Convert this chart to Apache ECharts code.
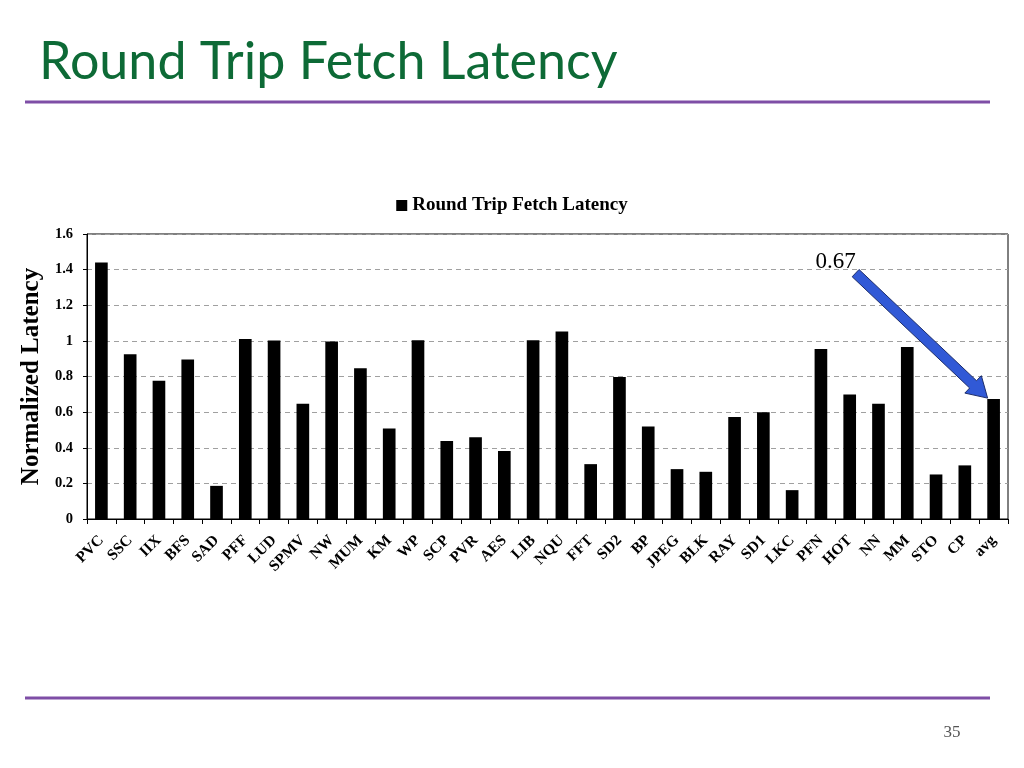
<!DOCTYPE html>
<html>
<head>
<meta charset="utf-8">
<title>Round Trip Fetch Latency</title>
<script src="https://cdn.jsdelivr.net/npm/echarts@6/dist/echarts.min.js"></script>
<style>
html, body { margin: 0; padding: 0; background: #fff; }
#chart { width: 1024px; height: 768px; }
</style>
</head>
<body>
<div id="chart"></div>
<script>
// benchmarks on the x axis
var categories = ['PVC', 'SSC', 'IIX', 'BFS', 'SAD', 'PFF', 'LUD', 'SPMV', 'NW', 'MUM', 'KM', 'WP',
	'SCP', 'PVR', 'AES', 'LIB', 'NQU', 'FFT', 'SD2', 'BP', 'JPEG', 'BLK', 'RAY', 'SD1', 'LKC',
	'PFN', 'HOT', 'NN', 'MM', 'STO', 'CP', 'avg'];
// normalized round trip fetch latency
var latency = [1.44, 0.925, 0.776, 0.895, 0.186, 1.011, 1.002, 0.647, 0.996, 0.846, 0.508, 1.004,
	0.438, 0.459, 0.382, 1.004, 1.053, 0.308, 0.797, 0.519, 0.280, 0.265, 0.573, 0.600, 0.162,
	0.955, 0.699, 0.647, 0.966, 0.250, 0.301, 0.673];
// labels that sit one step lower (staggered)
var lowered = ['SPMV', 'MUM', 'NQU', 'JPEG'];
var yTicks = { min: 0, max: 1.6, interval: 0.2 };
var avgLabel = '0.67';

var serif = '"Liberation Serif", "Times New Roman", serif';
var chart = echarts.init(document.getElementById('chart'));

var xData = [];
for (var i = 0; i < categories.length; i++) {
	if (lowered.indexOf(categories[i]) >= 0) {
		xData.push({ value: categories[i], textStyle: { padding: [14, 0, 0, 0] } });
	} else {
		xData.push(categories[i]);
	}
}

var option = {
	backgroundColor: '#ffffff',
	animation: false,
	title: {
		text: 'Round Trip Fetch Latency',
		left: 34,
		top: 31,
		textStyle: { fontFamily: 'Lato, "Open Sans", sans-serif', fontSize: 52, fontWeight: 'normal', color: '#0d6a36' }
	},
	legend: {
		data: ['Round Trip Fetch Latency'],
		left: 'center',
		top: 191,
		itemWidth: 11,
		itemHeight: 11,
		itemGap: 4,
		icon: 'rect',
		textStyle: { fontFamily: serif, fontSize: 19, fontWeight: 'bold', color: '#000' }
	},
	grid: {
		left: 87, right: 16, top: 234, bottom: 249,
		show: true, borderColor: '#000', borderWidth: 1
	},
	xAxis: {
		type: 'category',
		data: xData,
		axisLine: { lineStyle: { color: '#000', width: 1 } },
		axisTick: { show: true, length: 5, alignWithLabel: false, lineStyle: { color: '#000' } },
		axisLabel: {
			interval: 0, rotate: 45, margin: 19,
			fontFamily: serif, fontSize: 15.5, fontWeight: 'bold', color: '#000'
		}
	},
	yAxis: {
		type: 'value',
		min: yTicks.min, max: yTicks.max, interval: yTicks.interval,
		name: 'Normalized Latency',
		nameLocation: 'middle',
		nameGap: 39,
		nameTextStyle: { fontFamily: serif, fontSize: 25, fontWeight: 'bold', color: '#000' },
		axisLine: { show: true, lineStyle: { color: '#000' } },
		axisTick: { show: true, length: 4, lineStyle: { color: '#000' } },
		axisLabel: {
			margin: 14,
			fontFamily: serif, fontSize: 14.5, fontWeight: 'bold', color: '#000',
			formatter: function (v) { return String(Math.round(v * 10) / 10); }
		},
		splitLine: { show: true, lineStyle: { color: '#a0a0a0', type: [5, 4], width: 1 } }
	},
	series: [{
		name: 'Round Trip Fetch Latency',
		type: 'bar',
		data: latency,
		barWidth: '44%',
		itemStyle: { color: '#000' }
	}]
};
chart.setOption(option);

// 箭头指向 avg 柱顶
function drawArrow() {
	var last = categories.length - 1;
	var top = chart.convertToPixel({ seriesIndex: 0 }, [categories[last], latency[last]]);
	var tip = [top[0] - 6, top[1] - 1];
	var tail = [tip[0] - 132, tip[1] - 125];
	var dx = tip[0] - tail[0], dy = tip[1] - tail[1];
	var len = Math.sqrt(dx * dx + dy * dy);
	var ux = dx / len, uy = dy / len;
	var nx = -uy, ny = ux;
	var shaft = 5, head = 12, headLen = 20;
	var bx = tip[0] - ux * headLen, by = tip[1] - uy * headLen;
	var pts = [
		[tail[0] + nx * shaft, tail[1] + ny * shaft],
		[bx + nx * shaft, by + ny * shaft],
		[bx + nx * head, by + ny * head],
		tip,
		[bx - nx * head, by - ny * head],
		[bx - nx * shaft, by - ny * shaft],
		[tail[0] - nx * shaft, tail[1] - ny * shaft]
	];
	chart.setOption({
		graphic: [
			{ type: 'polygon', shape: { points: pts }, style: { fill: '#3159d6', stroke: '#1c2d6b', lineWidth: 1 }, z: 10 },
			{ type: 'text', x: tail[0] - 20, y: tail[1] - 11, style: {
				text: avgLabel, fontFamily: serif, fontSize: 23, fill: '#000',
				align: 'center', verticalAlign: 'middle' }, z: 10 },
			// 分隔线
			{ type: 'line', shape: { x1: 25, y1: 102, x2: 990, y2: 102 }, style: { stroke: '#7e4ea6', lineWidth: 3 } },
			{ type: 'line', shape: { x1: 25, y1: 698, x2: 990, y2: 698 }, style: { stroke: '#7e4ea6', lineWidth: 3 } },
			{ type: 'text', x: 952, y: 733, style: {
				text: '35', fontFamily: serif, fontSize: 17, fill: '#555',
				align: 'center', verticalAlign: 'middle' } }
		]
	});
}
drawArrow();
</script>
</body>
</html>
